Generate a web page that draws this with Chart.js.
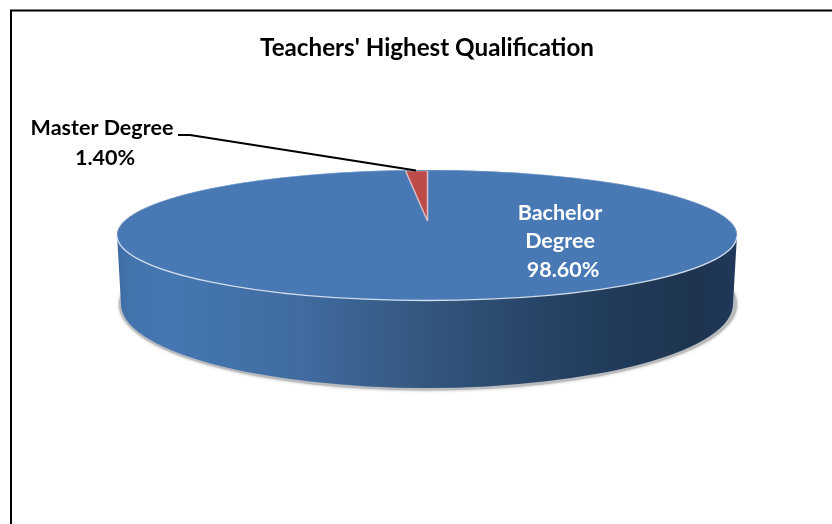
<!DOCTYPE html>
<html>
<head>
<meta charset="utf-8">
<style>html,body{margin:0;padding:0;background:#fff}canvas{display:block}</style>
<script src="https://cdn.jsdelivr.net/npm/chart.js@4"></script>
</head>
<body>
<div style="width:832px;height:524px"><canvas id="c" width="832" height="524"></canvas></div>
<script>
const chartTitle = "Teachers' Highest Qualification";
const categories = ['Bachelor Degree', 'Master Degree'];
const values = [98.6, 1.4];
const sliceColors = ['#4979b5', '#bd4b47'];
const bachelorLines = ['Bachelor', 'Degree'];
const masterLines = ['Master Degree'];

const FONT = 'Lato, "Open Sans", sans-serif';
const TOP = {x: 427, y: 235, rx: 310, ry: 65};
const BASE = {x: 427, y: 304, rx: 306, ry: 84};
const WEDGE = {x: 427.5, y: 221, rx: 248, ry: 50};

function wallGradient(ctx) {
  const g = ctx.createLinearGradient(TOP.x - TOP.rx, 0, TOP.x + TOP.rx, 0);
  [[0, '#3e6ba3'], [0.02, '#4273ad'], [0.085, '#4577b2'], [0.295, '#406ca0'],
   [0.49, '#34577f'], [0.62, '#2b4a6f'], [0.78, '#223c5b'], [0.94, '#1e3450'], [1, '#20385a']]
    .forEach(s => g.addColorStop(s[0], s[1]));
  return g;
}

const pie3d = {
  id: 'pie3d',
  beforeDraw(chart) {
    const ctx = chart.ctx;
    ctx.save();
    ctx.fillStyle = '#fff';
    ctx.fillRect(0, 0, chart.width, chart.height);
    ctx.strokeStyle = '#000';
    ctx.lineWidth = 2;
    ctx.beginPath();
    ctx.moveTo(11, chart.height);
    ctx.lineTo(11, 10.5);
    ctx.lineTo(chart.width, 10.5);
    ctx.stroke();
    ctx.restore();
  },
  beforeDatasetsDraw(chart) {
    const ctx = chart.ctx;
    ctx.save();
    // soft shadow beneath the disc
    ctx.save();
    ctx.shadowColor = 'rgba(110,105,100,0.6)';
    ctx.shadowBlur = 3;
    ctx.fillStyle = '#b8babe';
    ctx.beginPath();
    ctx.ellipse(BASE.x + 1, BASE.y + 0.5, BASE.rx + 3, BASE.ry + 2, 0, 0, Math.PI * 2);
    ctx.fill();
    ctx.restore();
    // cylinder wall
    ctx.fillStyle = wallGradient(ctx);
    ctx.beginPath();
    ctx.moveTo(TOP.x - TOP.rx, TOP.y);
    ctx.lineTo(BASE.x - BASE.rx, BASE.y);
    ctx.ellipse(BASE.x, BASE.y, BASE.rx, BASE.ry, 0, Math.PI, 0, true);
    ctx.lineTo(TOP.x + TOP.rx, TOP.y);
    ctx.ellipse(TOP.x, TOP.y, TOP.rx, TOP.ry, 0, 0, Math.PI, false);
    ctx.closePath();
    ctx.fill();
    // top surface behind the slices
    ctx.fillStyle = sliceColors[0];
    ctx.beginPath();
    ctx.ellipse(TOP.x, TOP.y, TOP.rx, TOP.ry, 0, 0, Math.PI * 2);
    ctx.fill();
    ctx.restore();
  },
  beforeDatasetDraw(chart, args) {
    const ctx = chart.ctx;
    args.meta.data.forEach((arc, i) => {
      const t = i === 0 ? TOP : WEDGE;
      ctx.save();
      ctx.translate(t.x, t.y);
      ctx.scale(t.rx / arc.outerRadius, t.ry / arc.outerRadius);
      ctx.translate(-arc.x, -arc.y);
      arc.draw(ctx, chart.chartArea);
      ctx.restore();
    });
    return false;
  },
  afterDatasetsDraw(chart) {
    const ctx = chart.ctx;
    ctx.save();
    // highlight round the rim
    ctx.strokeStyle = 'rgba(205,220,238,0.4)';
    ctx.lineWidth = 1;
    ctx.beginPath();
    ctx.ellipse(TOP.x, TOP.y, TOP.rx, TOP.ry, 0, Math.PI, Math.PI * 2);
    ctx.stroke();
    ctx.strokeStyle = '#cfdcec';
    ctx.lineWidth = 1.3;
    ctx.beginPath();
    ctx.ellipse(TOP.x, TOP.y + 0.5, TOP.rx, TOP.ry, 0, 0, Math.PI);
    ctx.stroke();
    // leader line
    ctx.strokeStyle = '#000';
    ctx.lineWidth = 2;
    ctx.beginPath();
    ctx.moveTo(178, 135);
    ctx.lineTo(190, 135);
    ctx.lineTo(416, 170.5);
    ctx.stroke();
    // data labels
    ctx.textAlign = 'center';
    ctx.textBaseline = 'middle';
    ctx.font = 'bold 21.5px ' + FONT;
    ctx.fillStyle = '#000';
    ctx.fillText(masterLines[0], 102, 128);
    ctx.fillText(values[1].toFixed(2) + '%', 105, 158);
    ctx.fillStyle = '#fff';
    ctx.fillText(bachelorLines[0], 560, 213);
    ctx.fillText(bachelorLines[1], 560, 241);
    ctx.fillText(values[0].toFixed(2) + '%', 563, 270);
    ctx.restore();
  }
};

new Chart(document.getElementById('c'), {
  type: 'pie',
  data: {
    labels: categories,
    datasets: [{
      data: values,
      backgroundColor: sliceColors,
      borderColor: ['#4979b5', '#dcc0c8'],
      borderWidth: [0, 1.4],
      clip: false
    }]
  },
  plugins: [pie3d],
  options: {
    responsive: false,
    animation: false,
    layout: {padding: {left: 22}},
    plugins: {
      legend: {display: false},
      tooltip: {enabled: false},
      title: {
        display: true,
        text: chartTitle,
        color: '#000',
        font: {family: FONT, size: 24.2, weight: 'bold'},
        padding: {top: 34, bottom: 10}
      }
    }
  }
});
</script>
</body>
</html>
